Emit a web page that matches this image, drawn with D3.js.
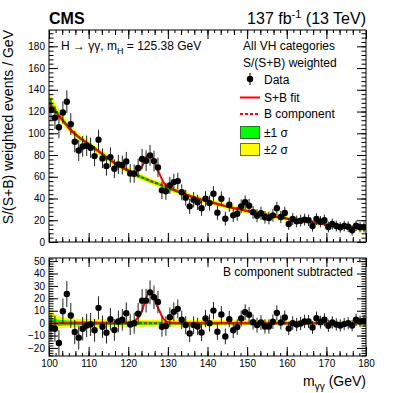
<!DOCTYPE html>
<html>
<head>
<meta charset="utf-8">
<script src="https://cdn.jsdelivr.net/npm/d3@7"></script>
<style>
body { margin: 0; background: #fff; }
text { font-family: "Liberation Sans", Arial, sans-serif; fill: #000; }
</style>
</head>
<body>
<div id="chart"></div>
<script>
var width = 407;
var height = 393;

// bins: 1 GeV from 100 to 180
var binEdges = [100, 180];
var binWidth = 1;

// data, top panel (S/(S+B) weighted events per GeV)
var dataTop = [121.6, 114.3, 105.6, 119.1, 129, 108.4, 92.2, 84.2, 87.9, 88.5,
  86.7, 79, 94, 76.9, 69.8, 78.1, 67.4, 71.4, 70.8, 74.1,
  63.1, 62.8, 68, 76.3, 74.8, 79.6, 74.4, 68.6, 47.5, 46.6,
  52.1, 55.1, 56, 45.7, 40.8, 32.8, 38.9, 36.5, 31, 39.8,
  35.8, 44.4, 27, 39.8, 21.5, 34.3, 24.5, 26, 32.8, 36.5,
  33.4, 27.3, 24.2, 26.4, 22.7, 22.1, 24.5, 31, 23, 26.7,
  16.5, 21.1, 19, 19.6, 20.6, 20, 14.7, 21.1, 18.7, 20,
  13.8, 16.5, 14.7, 13.5, 14.7, 14.1, 10.7, 15, 13.5, 13.5];

// data, bottom panel (B component subtracted)
var dataSub = [-3.7, -4.5, -16, 9.6, 23.5, 6.2, -7.2, -11.7, -4.5, -1.9,
  -1.1, -5.8, 12.3, -2.9, -7.7, 3.2, -5.5, 1.4, 2.7, 8,
  -1.1, 0, 7.5, 18.1, 18.1, 24.8, 20.8, 17.1, -2.9, -2.4,
  4.8, 9.1, 11.5, 2.7, -1.6, -8.3, -1.6, -2.7, -7.5, 3.7,
  0, 10.1, -6.9, 6.9, -10.7, 3.2, -5.8, -3.2, 3.7, 8.8,
  6.7, 0.8, -1.6, 0.5, -2.7, -2.7, 1.1, 8.3, 0.5, 4.5,
  -4.3, 0, -1.1, -0.3, 1.4, 1.4, -3.5, 4, 0.8, 2.7,
  -2.1, 0.5, -1.1, -1.9, -0.8, 0, -1.9, 2.7, 1.4, 1.9];

// statistical errors of the data points
var dataErr = [10.5, 10.5, 10.3, 10.2, 10.5, 10, 9.8, 9.6, 9.5, 9.4,
  9.3, 9.2, 9.3, 9, 8.8, 9, 8.7, 8.8, 8.7, 8.8,
  8.5, 8.5, 8.8, 9.3, 9.5, 9.6, 9.5, 9, 8, 7.8,
  7.8, 7.7, 7.6, 7.4, 7.3, 7, 7.1, 7, 6.9, 7,
  6.9, 7, 6.6, 6.8, 6.4, 6.6, 6.3, 6.3, 6.4, 6.4,
  6.2, 6, 6, 6, 5.8, 5.8, 5.8, 6, 5.6, 5.7,
  5.4, 5.5, 5.4, 5.4, 5.4, 5.3, 5.1, 5.3, 5.2, 5.2,
  5, 5, 5, 4.9, 4.9, 4.9, 4.7, 4.8, 4.7, 4.7];

// background fit and its uncertainty bands
var bkgMass = [100, 101, 102, 103, 104, 105, 107.5, 110, 112.5, 115, 117.5, 120, 122.5, 125, 127.5,
  130, 132.5, 135, 137.5, 140, 142.5, 145, 147.5, 150, 155, 160, 165, 170, 175, 180];
var bkgFit = [128, 123, 118.5, 114, 109.5, 105, 96.5, 90, 83.5, 76.5, 70.5, 65.5, 61, 57, 53.5,
  50, 46.5, 43, 40, 37.5, 35, 32.5, 30.5, 28.5, 25, 21.5, 18.8, 16.2, 14, 12];
var sig1Up = [5.5, 4, 3.2, 2.6, 2.3, 2.1, 1.8, 1.7, 1.6, 1.6, 1.5, 1.5, 1.5, 1.4, 1.4,
  1.4, 1.4, 1.3, 1.3, 1.3, 1.3, 1.2, 1.2, 1.2, 1.2, 1.1, 1.1, 1, 1, 1.1];
var sig1Down = [3.3, 2.7, 2.3, 2.1, 2, 1.9, 1.7, 1.6, 1.6, 1.6, 1.5, 1.5, 1.5, 1.4, 1.4,
  1.4, 1.4, 1.3, 1.3, 1.3, 1.3, 1.2, 1.2, 1.2, 1.2, 1.1, 1.1, 1, 1, 1.1];
var sig2Up = [11, 8, 6.4, 5.2, 4.6, 4.2, 3.6, 3.4, 3.2, 3.2, 3, 3, 3, 2.8, 2.8,
  2.8, 2.8, 2.6, 2.6, 2.6, 2.6, 2.4, 2.4, 2.4, 2.4, 2.2, 2.2, 2, 2, 2.2];
var sig2Down = [5.8, 4.9, 4.5, 4.2, 4, 3.8, 3.4, 3.2, 3.2, 3.2, 3, 3, 3, 2.8, 2.8,
  2.8, 2.8, 2.6, 2.6, 2.6, 2.6, 2.4, 2.4, 2.4, 2.4, 2.2, 2.2, 2, 2, 2.2];

// signal peak: S+B (top) and S only (bottom)
var peakMass = [117.5, 119, 120, 121, 122, 123, 123.5, 124, 124.5, 125, 125.4, 126, 126.5, 127,
  127.5, 128, 128.5, 129, 129.5, 130, 131, 132.5];
var peakSB = [70.5, 67.6, 66, 64.6, 64.9, 66.7, 69.4, 73.6, 77.8, 80.5, 81, 78.6, 75.4, 70.2,
  66, 61.8, 57.6, 54.4, 52.2, 50.8, 48.7, 46.5];
var peakS = [0, 0.1, 0.4, 1, 3, 6.5, 10, 15, 20, 23.5, 24.5, 23, 20.5, 16,
  12.5, 9, 5.5, 3, 1.5, 0.8, 0.1, 0];

var xTicks = [100, 110, 120, 130, 140, 150, 160, 170, 180];
var yTopTicks = [0, 20, 40, 60, 80, 100, 120, 140, 160, 180];
var yBotTicks = [-20, -10, 0, 10, 20, 30, 40, 50];

var plotLeft = 49, plotRight = 366;
var topPanel = { y0: 30, y1: 242 };
var botPanel = { y0: 258, y1: 356 };

var svg = d3.select("#chart").append("svg")
  .attr("width", width)
  .attr("height", height);

var x = d3.scaleLinear().domain(binEdges).range([plotLeft, plotRight]);
var yTop = d3.scaleLinear().domain([0, 195]).range([topPanel.y1, topPanel.y0]);
var yBot = d3.scaleLinear().domain([-26.5, 52.5]).range([botPanel.y1, botPanel.y0]);

var centers = d3.range(binEdges[0] + binWidth / 2, binEdges[1], binWidth);
var points = centers.map(function (c, i) {
  return { m: c, top: dataTop[i], sub: dataSub[i], err: dataErr[i] };
});
var bkg = bkgMass.map(function (mm, i) {
  return { m: mm, b: bkgFit[i], u1: sig1Up[i], d1: sig1Down[i], u2: sig2Up[i], d2: sig2Down[i] };
});
var peak = peakMass.map(function (mm, i) { return { m: mm, sb: peakSB[i], s: peakS[i] }; });

// S+B curve over whole range = background outside the peak region + peak values
var sbCurve = bkg.filter(function (d) { return d.m < peakMass[0] || d.m > peakMass[peakMass.length - 1]; })
  .map(function (d) { return { m: d.m, v: d.b }; })
  .concat(peak.map(function (d) { return { m: d.m, v: d.sb }; }))
  .sort(function (a, b) { return a.m - b.m; });
var sCurve = [{ m: binEdges[0], v: 0 }]
  .concat(peak.map(function (d) { return { m: d.m, v: d.s }; }))
  .concat([{ m: binEdges[1], v: 0 }]);

var curve = d3.curveMonotoneX;

function drawPanel(panel, y, yTicks, minorStep, isTop, id) {
  var g = svg.append("g");
  g.append("clipPath").attr("id", id).append("rect")
    .attr("x", plotLeft).attr("y", panel.y0)
    .attr("width", plotRight - plotLeft).attr("height", panel.y1 - panel.y0);
  var plot = g.append("g").attr("clip-path", "url(#" + id + ")");

  var base = function (d) { return isTop ? d.b : 0; };
  var band2 = d3.area().curve(curve)
    .x(function (d) { return x(d.m); })
    .y0(function (d) { return y(base(d) - d.d2); })
    .y1(function (d) { return y(base(d) + d.u2); });
  var band1 = d3.area().curve(curve)
    .x(function (d) { return x(d.m); })
    .y0(function (d) { return y(base(d) - d.d1); })
    .y1(function (d) { return y(base(d) + d.u1); });
  plot.append("path").attr("d", band2(bkg)).attr("fill", "#ffff00");
  plot.append("path").attr("d", band1(bkg)).attr("fill", "#00ff00");

  var line = d3.line().curve(curve)
    .x(function (d) { return x(d.m); })
    .y(function (d) { return y(d.v); });
  var bLine = isTop ? bkg.map(function (d) { return { m: d.m, v: d.b }; })
    : [{ m: binEdges[0], v: 0 }, { m: binEdges[1], v: 0 }];
  plot.append("path").attr("d", line(bLine))
    .attr("fill", "none").attr("stroke", "#ff0000").attr("stroke-width", 2)
    .attr("stroke-dasharray", "3,2");
  plot.append("path").attr("d", line(isTop ? sbCurve : sCurve))
    .attr("fill", "none").attr("stroke", "#ff0000").attr("stroke-width", 2);

  // data points with error bars
  var val = function (d) { return isTop ? d.top : d.sub; };
  var pts = plot.append("g").selectAll("g").data(points).enter().append("g");
  pts.append("line")
    .attr("x1", function (d) { return x(d.m); })
    .attr("x2", function (d) { return x(d.m); })
    .attr("y1", function (d) { return y(val(d) - d.err); })
    .attr("y2", function (d) { return y(val(d) + d.err); })
    .attr("stroke", "#222").attr("stroke-width", 1);
  pts.append("circle")
    .attr("cx", function (d) { return x(d.m); })
    .attr("cy", function (d) { return y(val(d)); })
    .attr("r", 3.2).attr("fill", "#000");

  // frame
  g.append("rect").attr("x", plotLeft).attr("y", panel.y0)
    .attr("width", plotRight - plotLeft).attr("height", panel.y1 - panel.y0)
    .attr("fill", "none").attr("stroke", "#000").attr("stroke-width", 1);

  // ticks on all four sides, pointing inwards
  var xMid = d3.range(0, 80, 10 / 3).map(function (v) { return 100 + v; });
  var xMinor = d3.range(0, 80, 10 / 6).map(function (v) { return 100 + v; });
  var yMinor = d3.range(y.domain()[0] - (y.domain()[0] % minorStep), y.domain()[1], minorStep);

  var bottom = g.append("g").attr("transform", "translate(0," + panel.y1 + ")");
  bottom.call(d3.axisBottom(x).tickValues(xMinor).tickSize(-3).tickFormat(""));
  bottom.append("g").call(d3.axisBottom(x).tickValues(xMid).tickSize(-5).tickFormat(""));
  bottom.append("g").call(d3.axisBottom(x).tickValues(xTicks).tickSize(-9).tickPadding(4)
    .tickFormat(isTop ? "" : d3.format("d")));
  var topAx = g.append("g").attr("transform", "translate(0," + panel.y0 + ")");
  topAx.call(d3.axisTop(x).tickValues(xMinor).tickSize(-3).tickFormat(""));
  topAx.append("g").call(d3.axisTop(x).tickValues(xMid).tickSize(-5).tickFormat(""));
  topAx.append("g").call(d3.axisTop(x).tickValues(xTicks).tickSize(-9).tickFormat(""));

  var left = g.append("g").attr("transform", "translate(" + plotLeft + ",0)");
  left.call(d3.axisLeft(y).tickValues(yMinor).tickSize(-4.5).tickFormat(""));
  left.append("g").call(d3.axisLeft(y).tickValues(yTicks).tickSize(-9).tickPadding(4)
    .tickFormat(d3.format("d")));
  var right = g.append("g").attr("transform", "translate(" + plotRight + ",0)");
  right.call(d3.axisRight(y).tickValues(yMinor).tickSize(-4.5).tickFormat(""));
  right.append("g").call(d3.axisRight(y).tickValues(yTicks).tickSize(-9).tickFormat(""));

  g.selectAll(".domain").remove();
  g.selectAll(".tick line").attr("stroke", "#000");
  g.selectAll(".tick text").style("font-size", "10px").attr("fill", "#000")
    .text(function () { return this.textContent.replace("-", "\u2212"); });
  return g;
}

drawPanel(topPanel, yTop, yTopTicks, 4, true, "clipTop");
drawPanel(botPanel, yBot, yBotTicks, 2, false, "clipBot");

// header
svg.append("text").attr("x", plotLeft).attr("y", 24)
  .style("font-size", "16px").style("font-weight", "bold").text("CMS");
var lumi = svg.append("text").attr("x", plotRight).attr("y", 24)
  .attr("text-anchor", "end").style("font-size", "16px");
lumi.append("tspan").text("137 fb");
lumi.append("tspan").attr("dy", -6).style("font-size", "11px").text("-1");
lumi.append("tspan").attr("dy", 6).text(" (13 TeV)");

// process label
var proc = svg.append("text").attr("x", 61).attr("y", 50).style("font-size", "12px");
proc.append("tspan").text("H \u2192 \u03b3\u03b3, m");
proc.append("tspan").attr("dy", 4).style("font-size", "9px").text("H");
proc.append("tspan").attr("dy", -4).text(" = 125.38 GeV");

// legend
var lx = 243;
svg.append("text").attr("x", lx).attr("y", 50).style("font-size", "12px").text("All VH categories");
svg.append("text").attr("x", lx).attr("y", 66.5).style("font-size", "12px").text("S/(S+B) weighted");
var leg = svg.append("g");
leg.append("line").attr("x1", 250).attr("x2", 250).attr("y1", 73).attr("y2", 85).attr("stroke", "#000");
leg.append("circle").attr("cx", 250).attr("cy", 79).attr("r", 3.2).attr("fill", "#000");
leg.append("text").attr("x", 264).attr("y", 83.5).style("font-size", "12px").text("Data");
leg.append("line").attr("x1", 240).attr("x2", 260).attr("y1", 97.5).attr("y2", 97.5)
  .attr("stroke", "#ff0000").attr("stroke-width", 2);
leg.append("text").attr("x", 264).attr("y", 101.5).style("font-size", "12px").text("S+B fit");
leg.append("line").attr("x1", 240).attr("x2", 260).attr("y1", 114).attr("y2", 114)
  .attr("stroke", "#ff0000").attr("stroke-width", 2).attr("stroke-dasharray", "3,2");
leg.append("text").attr("x", 264).attr("y", 118).style("font-size", "12px").text("B component");
leg.append("rect").attr("x", 240.5).attr("y", 126.5).attr("width", 19).attr("height", 12)
  .attr("fill", "#00ff00").attr("stroke", "#2f6f2f");
leg.append("text").attr("x", 264).attr("y", 136.5).style("font-size", "12px").text("\u00b11 \u03c3");
leg.append("rect").attr("x", 240.5).attr("y", 143.5).attr("width", 19).attr("height", 12)
  .attr("fill", "#ffff00").attr("stroke", "#6f6f1f");
leg.append("text").attr("x", 264).attr("y", 153.5).style("font-size", "12px").text("\u00b12 \u03c3");

svg.append("text").attr("x", 353).attr("y", botPanel.y0 + 18)
  .attr("text-anchor", "end").style("font-size", "12px").text("B component subtracted");

// axis titles
svg.append("text")
  .attr("transform", "translate(13," + topPanel.y0 + ") rotate(-90)")
  .attr("text-anchor", "end").style("font-size", "14px")
  .text("S/(S+B) weighted events / GeV");
var xt = svg.append("text").attr("x", plotRight).attr("y", 386)
  .attr("text-anchor", "end").style("font-size", "14px");
xt.append("tspan").text("m");
xt.append("tspan").attr("dy", 4).style("font-size", "10px").text("\u03b3\u03b3");
xt.append("tspan").attr("dy", -4).text(" (GeV)");
</script>
</body>
</html>
